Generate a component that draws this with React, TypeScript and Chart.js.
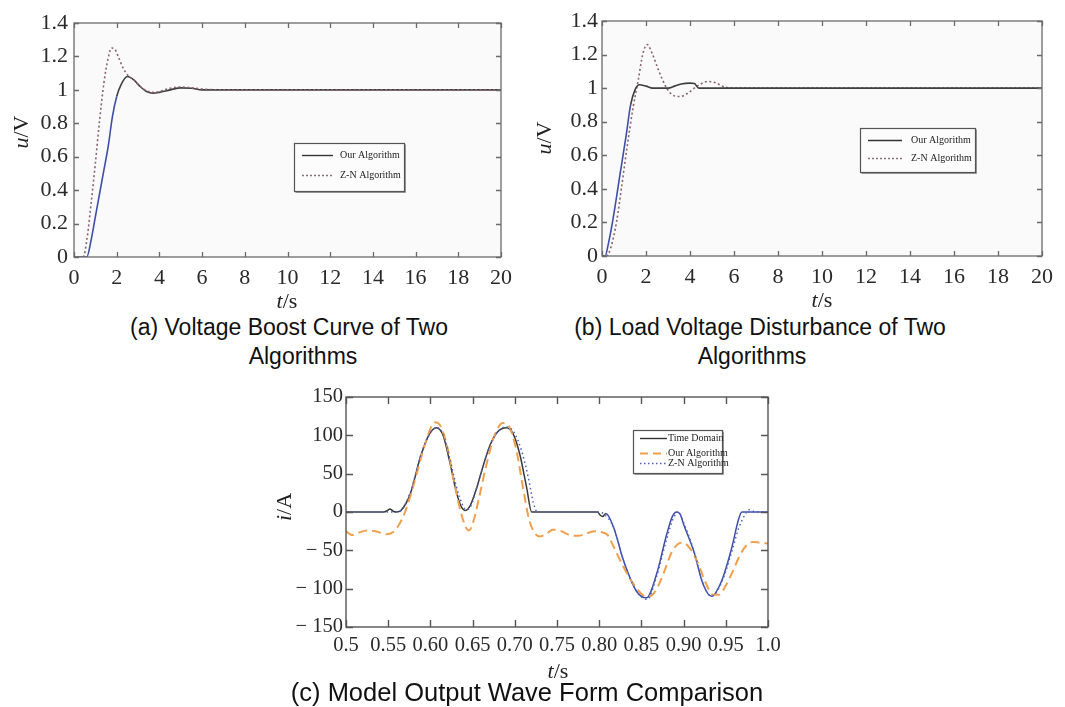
import React, { useEffect, useRef } from 'react';
import { Chart, registerables } from 'chart.js';

Chart.register(...registerables);

// ---------- (a) Voltage boost ----------
const aOurT = [0, 0.6, 0.8, 1.0, 1.2, 1.4, 1.6, 1.8, 2.0, 2.2, 2.5, 2.8, 3.1, 3.4, 3.7, 4.0, 4.5, 5.0, 5.5, 6.0, 7.0, 8, 10, 12, 14, 16, 18, 20];
const aOurU = [0, 0, 0.1, 0.24, 0.38, 0.52, 0.66, 0.84, 0.96, 1.03, 1.08, 1.06, 1.02, 0.99, 0.98, 0.985, 1.0, 1.012, 1.01, 1.0, 1.0, 1.0, 1.0, 1.0, 1.0, 1.0, 1.0, 1.0];
const aZnT = [0, 0.43, 0.6, 0.8, 1.0, 1.2, 1.4, 1.6, 1.76, 1.9, 2.1, 2.3, 2.5, 2.8, 3.1, 3.4, 3.7, 4.0, 4.5, 5.0, 5.5, 6.0, 7.0, 8, 10, 12, 14, 16, 18, 20];
const aZnU = [0, 0, 0.1, 0.32, 0.56, 0.82, 1.04, 1.19, 1.25, 1.245, 1.19, 1.13, 1.09, 1.06, 1.02, 0.995, 0.985, 0.99, 1.01, 1.017, 1.012, 1.005, 1.0, 1.0, 1.0, 1.0, 1.0, 1.0, 1.0, 1.0];

// ---------- (b) Load voltage disturbance ----------
const bOurT = [0, 0.14, 0.3, 0.5, 0.8, 1.1, 1.3, 1.5, 1.7, 2.0, 2.3, 2.6, 3.0, 3.3, 3.6, 4.0, 4.2, 4.4, 5.0, 6, 8, 10, 12, 14, 16, 18, 20];
const bOurU = [0, 0, 0.08, 0.22, 0.47, 0.72, 0.9, 0.99, 1.02, 1.012, 1.0, 1.0, 1.0, 1.012, 1.025, 1.03, 1.027, 1.0, 1.0, 1.0, 1.0, 1.0, 1.0, 1.0, 1.0, 1.0, 1.0];
const bZnT = [0, 0.2, 0.4, 0.67, 0.9, 1.12, 1.42, 1.65, 1.85, 2.05, 2.3, 2.56, 2.94, 3.2, 3.55, 3.9, 4.3, 4.83, 5.2, 5.5, 6.0, 7, 8, 10, 12, 14, 16, 18, 20];
const bZnU = [0, 0, 0.05, 0.21, 0.42, 0.63, 0.89, 1.05, 1.2, 1.26, 1.2, 1.11, 1.0, 0.96, 0.95, 0.97, 1.01, 1.04, 1.03, 1.01, 1.0, 1.0, 1.0, 1.0, 1.0, 1.0, 1.0, 1.0, 1.0];

// ---------- (c) Model output wave form ----------
const cTdT = [0.5, 0.545, 0.549, 0.552, 0.556, 0.56, 0.565, 0.576, 0.588, 0.598, 0.607, 0.615, 0.623, 0.631, 0.637, 0.641, 0.647, 0.655, 0.663, 0.671, 0.68, 0.69, 0.698, 0.706, 0.714, 0.72, 0.798, 0.801, 0.804, 0.808, 0.817, 0.829, 0.844, 0.856, 0.868, 0.88, 0.887, 0.892, 0.896, 0.9, 0.912, 0.923, 0.933, 0.945, 0.957, 0.965, 0.969, 1.0];
const cTdI = [0, 0, 2, 4, 1, 0, 2, 23, 71, 100, 110, 100, 65, 25, 6, 2, 8, 32, 62, 88, 105, 110, 102, 75, 32, 0, 0, -4, -6, -2, -20, -64, -103, -112, -81, -29, -5, 0, -3, -16, -51, -94, -110, -90, -47, -10, 0, 0];
const cOurT = [0.5, 0.507, 0.515, 0.525, 0.535, 0.548, 0.556, 0.562, 0.57, 0.58, 0.59, 0.598, 0.605, 0.612, 0.62, 0.628, 0.636, 0.642, 0.646, 0.651, 0.658, 0.666, 0.676, 0.686, 0.694, 0.702, 0.71, 0.717, 0.724, 0.73, 0.738, 0.745, 0.755, 0.765, 0.775, 0.785, 0.795, 0.805, 0.81, 0.817, 0.829, 0.844, 0.855, 0.862, 0.87, 0.878, 0.886, 0.893, 0.898, 0.905, 0.916, 0.926, 0.935, 0.942, 0.95, 0.958, 0.966, 0.974, 0.982, 0.99, 1.0];
const cOurI = [-25, -30, -27, -24, -25, -29, -26, -18, 0, 35, 75, 103, 117, 112, 85, 40, 0, -20, -24, -12, 20, 60, 100, 116, 110, 80, 30, -10, -28, -32, -28, -23, -25, -30, -31, -28, -25, -27, -30, -45, -72, -99, -110, -109, -96, -75, -52, -42, -40, -44, -64, -92, -108, -108, -96, -78, -58, -44, -39, -40, -41];
const cZnT = [0.5, 0.562, 0.576, 0.588, 0.598, 0.607, 0.615, 0.623, 0.631, 0.637, 0.642, 0.648, 0.655, 0.663, 0.671, 0.68, 0.69, 0.699, 0.708, 0.716, 0.722, 0.727, 0.8, 0.805, 0.817, 0.829, 0.844, 0.857, 0.868, 0.88, 0.888, 0.894, 0.9, 0.912, 0.923, 0.933, 0.945, 0.957, 0.965, 0.972, 0.978, 0.985, 1.0];
const cZnI = [0, 0, 25, 72, 100, 110, 102, 70, 32, 12, 3, 8, 32, 62, 88, 105, 111, 104, 80, 45, 12, 0, 0, -2, -20, -64, -103, -114, -84, -35, -8, 0, -14, -50, -93, -110, -92, -52, -22, -5, 3, 0, 0];

const captionA = ['(a) Voltage Boost Curve of Two', 'Algorithms'];
const captionB = ['(b) Load Voltage Disturbance of Two', 'Algorithms'];
const captionC = ['(c) Model Output Wave Form Comparison'];
const legendAB = ['Our Algorithm', 'Z-N Algorithm'];
const legendC = ['Time Domain', 'Our Algorithm', 'Z-N Algorithm'];

const SERIF = "'Liberation Serif', 'Times New Roman', serif";

const pts = (xs: number[], ys: number[]) => xs.map((x, i) => ({ x, y: ys[i] }));

type Part = { t: string; it?: boolean };

function drawRich(ctx: CanvasRenderingContext2D, parts: Part[], size: number, align = 'center') {
  let total = 0;
  const widths = parts.map((p) => {
    ctx.font = `${p.it ? 'italic ' : ''}${size}px ${SERIF}`;
    const w = ctx.measureText(p.t).width;
    total += w;
    return w;
  });
  let x = align === 'left' ? 0 : -total / 2;
  parts.forEach((p, i) => {
    ctx.font = `${p.it ? 'italic ' : ''}${size}px ${SERIF}`;
    ctx.fillText(p.t, x, 0);
    x += widths[i];
  });
}

const decorPlugin = {
  id: 'decor',
  beforeDatasetsDraw(chart: any, _a: any, opts: any) {
    const { ctx, chartArea: a } = chart;
    if (opts.bg) {
      ctx.save();
      ctx.fillStyle = opts.bg;
      ctx.fillRect(a.left, a.top, a.right - a.left, a.bottom - a.top);
      ctx.restore();
    }
  },
  afterDatasetsDraw(chart: any, _a: any, opts: any) {
    const { ctx, chartArea: a, scales } = chart;
    if (!opts.frameColor) return;
    ctx.save();
    ctx.strokeStyle = opts.frameColor;
    ctx.lineWidth = opts.frameWidth;
    ctx.strokeRect(a.left, a.top, a.right - a.left, a.bottom - a.top);
    const L = opts.tickLen;
    ctx.beginPath();
    scales.x.ticks.forEach((t: any) => {
      const px = Math.round(scales.x.getPixelForValue(t.value)) + 0.5;
      ctx.moveTo(px, a.bottom);
      ctx.lineTo(px, a.bottom - L);
      ctx.moveTo(px, a.top);
      ctx.lineTo(px, a.top + L);
    });
    scales.y.ticks.forEach((t: any) => {
      const py = Math.round(scales.y.getPixelForValue(t.value)) + 0.5;
      ctx.moveTo(a.left, py);
      ctx.lineTo(a.left + L, py);
      ctx.moveTo(a.right, py);
      ctx.lineTo(a.right - L, py);
    });
    ctx.stroke();

    // axis titles
    ctx.fillStyle = '#222';
    ctx.textBaseline = 'middle';
    ctx.textAlign = 'left';
    ctx.save();
    ctx.translate(opts.xTitlePos[0], opts.xTitlePos[1]);
    drawRich(ctx, opts.xTitle, opts.titleSize);
    ctx.restore();
    ctx.save();
    ctx.translate(opts.yTitlePos[0], opts.yTitlePos[1]);
    ctx.rotate(-Math.PI / 2);
    drawRich(ctx, opts.yTitle, opts.titleSize);
    ctx.restore();

    // legend
    const lg = opts.legend;
    if (lg) {
      const [x0, y0, x1, y1] = lg.box;
      ctx.fillStyle = lg.bg;
      ctx.fillRect(x0, y0, x1 - x0, y1 - y0);
      ctx.strokeStyle = '#999';
      ctx.lineWidth = 1;
      ctx.beginPath();
      ctx.moveTo(x0 + 1.5, y1 + 1.5);
      ctx.lineTo(x1 + 1.5, y1 + 1.5);
      ctx.lineTo(x1 + 1.5, y0 + 1.5);
      ctx.stroke();
      ctx.strokeStyle = lg.border;
      ctx.lineWidth = 1.2;
      ctx.strokeRect(x0 + 0.5, y0 + 0.5, x1 - x0, y1 - y0);
      lg.items.forEach((it: any) => {
        ctx.save();
        ctx.strokeStyle = it.color;
        ctx.lineWidth = it.width;
        ctx.setLineDash(it.dash || []);
        ctx.beginPath();
        ctx.moveTo(lg.lineX[0], it.y + 0.5);
        ctx.lineTo(lg.lineX[1], it.y + 0.5);
        ctx.stroke();
        ctx.restore();
        ctx.save();
        ctx.fillStyle = '#222';
        ctx.textAlign = 'left';
        ctx.textBaseline = 'middle';
        ctx.translate(lg.textX, it.y);
        drawRich(ctx, [{ t: it.text }], lg.size, 'left');
        ctx.restore();
      });
    }
    ctx.restore();
  },
};
Chart.register(decorPlugin);

function baseOptions(p: any) {
  const font = { family: SERIF, size: p.tickSize };
  return {
    animation: false,
    responsive: false,
    devicePixelRatio: 1,
    layout: { padding: { left: 0, right: p.padR, top: p.padT, bottom: 0 } },
    elements: { point: { radius: 0 }, line: { cubicInterpolationMode: 'monotone' } },
    plugins: {
      legend: { display: false },
      tooltip: { enabled: false },
      decor: p.decor,
    },
    scales: {
      x: {
        type: 'linear',
        min: p.xMin,
        max: p.xMax,
        grid: { display: false, drawTicks: false },
        border: { display: false },
        ticks: {
          stepSize: p.xStep,
          autoSkip: false,
          maxRotation: 0,
          minRotation: 0,
          padding: p.xPad,
          color: '#2a2a2a',
          font,
          callback: p.xFmt,
        },
        afterFit: (s: any) => {
          s.height = p.xH;
          s.paddingLeft = 0;
          s.paddingRight = 0;
        },
      },
      y: {
        type: 'linear',
        min: p.yMin,
        max: p.yMax,
        grid: { display: false, drawTicks: false },
        border: { display: false },
        ticks: {
          stepSize: p.yStep,
          autoSkip: false,
          padding: p.yPad,
          color: '#2a2a2a',
          font,
          callback: p.yFmt,
        },
        afterFit: (s: any) => {
          s.width = p.yW;
          s.paddingTop = 0;
          s.paddingBottom = 0;
        },
      },
    },
  };
}

const fmtInt = (v: number) => String(Math.round(v));
const fmtOne = (v: number) => String(Math.round(v * 10) / 10);
const fmtC = (v: number) => {
  const r = Math.round(v * 100) / 100;
  if (r === 0.5) return '0.5';
  if (r === 1) return '1.0';
  return r.toFixed(2);
};
const fmtI = (v: number) => {
  const r = Math.round(v);
  return r < 0 ? '\u2212 ' + Math.abs(r) : String(r);
};

const darkLine = '#3e3e3e';
const blueLine = '#3f4fa8';
const znLine = '#8a6272';

function configA() {
  return {
    type: 'line',
    data: {
      datasets: [
        {
          label: legendAB[0],
          data: pts(aOurT, aOurU),
          borderColor: darkLine,
          borderWidth: 1.6,
          order: 2,
          segment: { borderColor: (c: any) => (c.p1.parsed.x <= 2.1 ? blueLine : darkLine) },
        },
        {
          label: legendAB[1],
          data: pts(aZnT, aZnU),
          borderColor: znLine,
          borderWidth: 1.6,
          borderDash: [2, 2.5],
          order: 1,
        },
      ],
    },
    options: baseOptions({
      padR: 29, padT: 23, xH: 53, yW: 74, xPad: 8, yPad: 6, tickSize: 22,
      xMin: 0, xMax: 20, xStep: 2, yMin: 0, yMax: 1.4, yStep: 0.2,
      xFmt: fmtInt, yFmt: fmtOne,
      decor: {
        bg: '#fafafa', frameColor: '#6a6a6a', frameWidth: 1.3, tickLen: 5,
        titleSize: 22,
        xTitle: [{ t: 't', it: true }, { t: '/s' }], xTitlePos: [287, 302],
        yTitle: [{ t: 'u', it: true }, { t: '/V' }], yTitlePos: [22, 132],
        legend: {
          box: [294, 143, 404, 191], bg: '#fcfcfc', border: '#555', size: 10,
          lineX: [302, 333], textX: 340,
          items: [
            { y: 155, text: legendAB[0], color: '#333', width: 1.4 },
            { y: 175, text: legendAB[1], color: '#8a7078', width: 1.3, dash: [2, 2] },
          ],
        },
      },
    }),
  };
}

function configB() {
  return {
    type: 'line',
    data: {
      datasets: [
        {
          label: legendAB[0],
          data: pts(bOurT, bOurU),
          borderColor: darkLine,
          borderWidth: 1.6,
          order: 1,
          segment: { borderColor: (c: any) => (c.p1.parsed.x <= 1.4 ? blueLine : darkLine) },
        },
        {
          label: legendAB[1],
          data: pts(bZnT, bZnU),
          borderColor: znLine,
          borderWidth: 1.6,
          borderDash: [2, 2.5],
          order: 2,
        },
      ],
    },
    options: baseOptions({
      padR: 23, padT: 21, xH: 54, yW: 72, xPad: 8, yPad: 4, tickSize: 22,
      xMin: 0, xMax: 20, xStep: 2, yMin: 0, yMax: 1.4, yStep: 0.2,
      xFmt: fmtInt, yFmt: fmtOne,
      decor: {
        bg: '#fafafa', frameColor: '#6a6a6a', frameWidth: 1.3, tickLen: 5,
        titleSize: 22,
        xTitle: [{ t: 't', it: true }, { t: '/s' }], xTitlePos: [292, 301],
        yTitle: [{ t: 'u', it: true }, { t: '/V' }], yTitlePos: [15, 138],
        legend: {
          box: [330, 128, 445, 172], bg: '#fcfcfc', border: '#555', size: 10,
          lineX: [338, 372], textX: 381,
          items: [
            { y: 140, text: legendAB[0], color: '#333', width: 1.6 },
            { y: 158, text: legendAB[1], color: '#8a7078', width: 1.3, dash: [2, 2] },
          ],
        },
      },
    }),
  };
}

function configC() {
  return {
    type: 'line',
    data: {
      datasets: [
        {
          label: legendC[0],
          data: pts(cTdT, cTdI),
          borderColor: '#3a3a3a',
          borderWidth: 1.5,
          order: 3,
          segment: { borderColor: (c: any) => (c.p1.parsed.x >= 0.812 ? blueLine : '#3a3a3a') },
        },
        {
          label: legendC[1],
          data: pts(cOurT, cOurI),
          borderColor: '#f0a04c',
          borderWidth: 2,
          borderDash: [9, 5],
          order: 2,
        },
        {
          label: legendC[2],
          data: pts(cZnT, cZnI),
          borderColor: '#5060c0',
          borderWidth: 1.5,
          borderDash: [1.5, 3],
          order: 1,
        },
      ],
    },
    options: baseOptions({
      padR: 22, padT: 17, xH: 53, yW: 76, xPad: 6, yPad: 3, tickSize: 20.5,
      xMin: 0.5, xMax: 1.0, xStep: 0.05, yMin: -150, yMax: 150, yStep: 50,
      xFmt: fmtC, yFmt: fmtI,
      decor: {
        bg: '#ffffff', frameColor: '#555', frameWidth: 1.4, tickLen: 7,
        titleSize: 22,
        xTitle: [{ t: 't', it: true }, { t: '/s' }], xTitlePos: [288, 292],
        yTitle: [{ t: 'i', it: true }, { t: '/A' }], yTitlePos: [15, 127],
        legend: {
          box: [363, 50, 452, 93], bg: '#ffffff', border: '#555', size: 10,
          lineX: [370, 397], textX: 398,
          items: [
            { y: 58, text: legendC[0], color: '#333', width: 1.4 },
            { y: 73, text: legendC[1], color: '#f0a04c', width: 2, dash: [8, 5] },
            { y: 83, text: legendC[2], color: '#5060c0', width: 1.3, dash: [1.5, 2.5] },
          ],
        },
      },
    }),
  };
}

function Plot({ make, left, top, width, height }: any) {
  const ref = useRef<HTMLCanvasElement | null>(null);
  useEffect(() => {
    const chart = new Chart(ref.current as HTMLCanvasElement, make());
    return () => chart.destroy();
  }, []);
  return (
    <canvas
      ref={ref}
      width={width}
      height={height}
      style={{ position: 'absolute', left, top, width, height }}
    />
  );
}

const capStyle: React.CSSProperties = {
  position: 'absolute',
  fontFamily: "'Liberation Sans', Arial, sans-serif",
  fontSize: 23,
  color: '#111',
  whiteSpace: 'nowrap',
  lineHeight: '23px',
  transform: 'translateX(-50%)',
};

export default function App() {
  return (
    <div style={{ position: 'absolute', left: 0, top: 0, width: 1065, height: 707, background: '#fff', overflow: 'hidden' }}>
      <Plot make={configA} left={0} top={0} width={530} height={310} />
      <Plot make={configB} left={530} top={0} width={535} height={310} />
      <Plot make={configC} left={270} top={380} width={520} height={300} />
      <div style={{ ...capStyle, left: 289, top: 316 }}>{captionA[0]}</div>
      <div style={{ ...capStyle, left: 303, top: 345 }}>{captionA[1]}</div>
      <div style={{ ...capStyle, left: 760, top: 316 }}>{captionB[0]}</div>
      <div style={{ ...capStyle, left: 752, top: 345 }}>{captionB[1]}</div>
      <div style={{ ...capStyle, left: 527, top: 680, fontSize: 25.5, lineHeight: '25.5px' }}>{captionC[0]}</div>
    </div>
  );
}
